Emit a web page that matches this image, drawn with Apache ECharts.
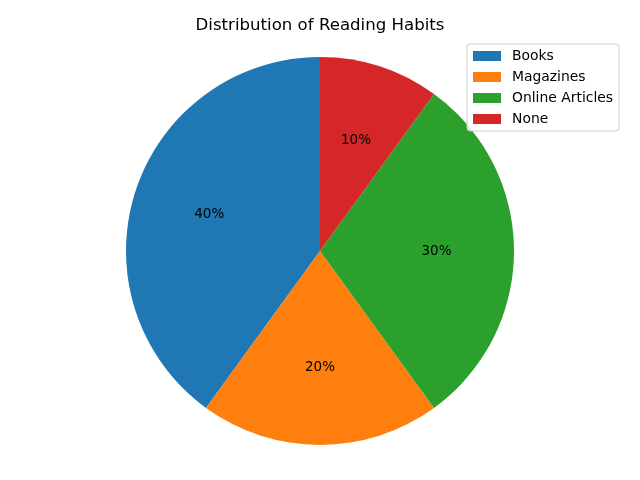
<!DOCTYPE html>
<html>
<head>
<meta charset="utf-8">
<script src="https://cdn.jsdelivr.net/npm/echarts@6/dist/echarts.min.js"></script>
<style>
  html, body { margin: 0; padding: 0; background: #fff; }
  #chart { width: 640px; height: 480px; }
</style>
</head>
<body>
<div id="chart"></div>
<script>
var categories = ['Books', 'Magazines', 'Online Articles', 'None'];
var shares = [40, 20, 30, 10];
var colors = ['#1f77b4', '#ff7f0e', '#2ca02c', '#d62728'];

var pieData = categories.map(function (name, i) {
    return { name: name, value: shares[i] };
});

var chart = echarts.init(document.getElementById('chart'));
chart.setOption({
    animation: false,
    color: colors,
    title: {
        text: 'Distribution of Reading Habits',
        left: 'center',
        top: 12,
        textStyle: { fontFamily: 'DejaVu Sans', fontSize: 16.6, fontWeight: 'normal', color: '#000' }
    },
    legend: {
        data: categories,
        orient: 'vertical',
        left: 467,
        top: 44,
        padding: [5, 6, 5, 6],
        itemWidth: 28,
        itemHeight: 10,
        itemGap: 7,
        icon: 'rect',
        borderColor: '#cccccc',
        borderWidth: 1,
        borderRadius: 3,
        backgroundColor: 'rgba(255,255,255,0.8)',
        textStyle: { fontFamily: 'DejaVu Sans', fontSize: 13.9, color: '#000', padding: [0, 0, 0, 6] }
    },
    series: [
        {
            type: 'pie',
            center: [320, 251],
            radius: 194,
            startAngle: 90,
            clockwise: false,
            data: pieData,
            label: { show: false },
            labelLine: { show: false },
            itemStyle: { borderWidth: 0 },
            emphasis: { disabled: true }
        },
        {
            // transparent copy, only for labels placed at 0.6 of the radius
            type: 'pie',
            center: [320, 251],
            radius: 227,
            startAngle: 90,
            clockwise: false,
            silent: true,
            data: pieData,
            itemStyle: { color: 'rgba(0,0,0,0)', borderWidth: 0 },
            label: {
                show: true,
                position: 'inside',
                formatter: '{d}%',
                fontFamily: 'DejaVu Sans',
                fontSize: 13.5,
                color: '#000'
            },
            labelLine: { show: false },
            emphasis: { disabled: true }
        }
    ]
});
</script>
</body>
</html>
